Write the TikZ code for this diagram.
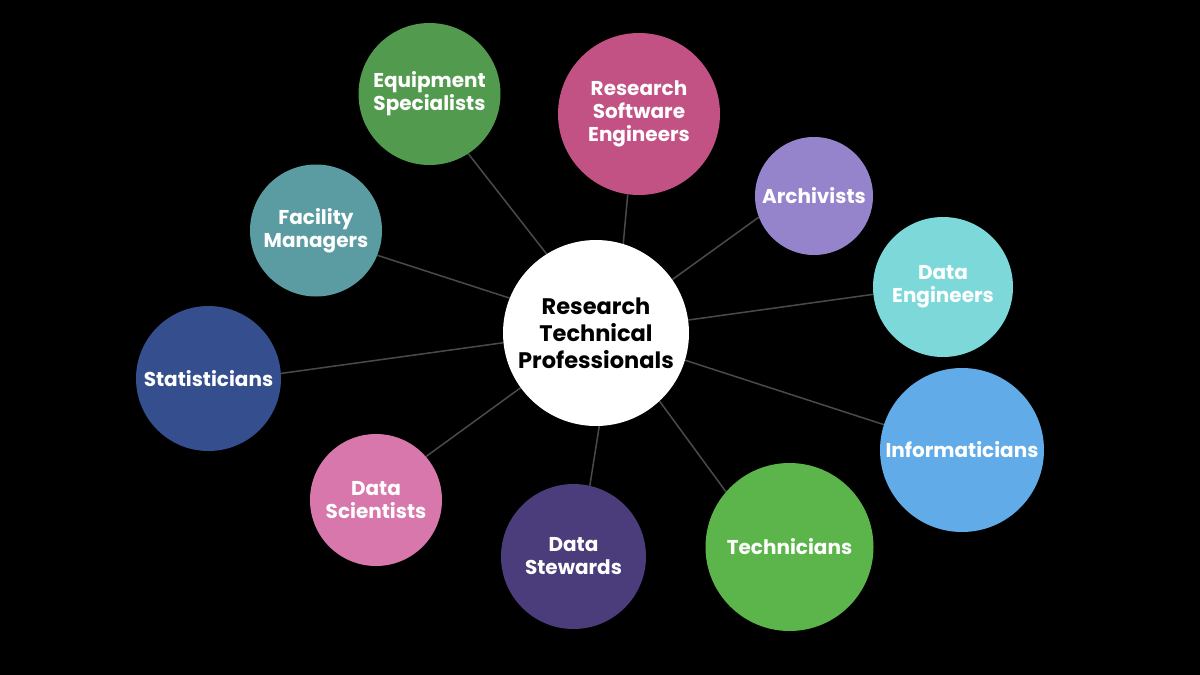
\documentclass[tikz,border=0pt]{standalone}
\usepackage{fontspec}
\setmainfont{Poppins}
\definecolor{bgc}{HTML}{000000}
\definecolor{linec}{HTML}{4A4A4A}
\definecolor{cEquip}{HTML}{529A4E}
\definecolor{cRSE}{HTML}{C25283}
\definecolor{cArch}{HTML}{9583CC}
\definecolor{cDEng}{HTML}{7DD9D9}
\definecolor{cInfo}{HTML}{61ABE8}
\definecolor{cTech}{HTML}{5CB54B}
\definecolor{cStew}{HTML}{4B3D7B}
\definecolor{cSci}{HTML}{D877AB}
\definecolor{cStat}{HTML}{344E8E}
\definecolor{cFac}{HTML}{5A9CA2}
\pgfdeclarelayer{bglayer}
\pgfdeclarelayer{linelayer}
\pgfsetlayers{bglayer,linelayer,main}
\tikzset{
  role/.style={circle, fill=#1, inner sep=0pt, align=center, text=white,
    font=\fontsize{20}{23}\selectfont\bfseries},
  hub/.style={circle, fill=white, inner sep=0pt, minimum size=186pt, align=center,
    text=black, font=\fontsize{22.5}{27}\selectfont\bfseries},
  link/.style={draw=linec, line width=1.5pt}
}
\begin{document}
\begin{tikzpicture}[x=1pt,y=-1pt]
\begin{pgfonlayer}{bglayer}
\fill[bgc] (0,0) rectangle (1200,675);
\end{pgfonlayer}
\useasboundingbox (0,0) rectangle (1200,675);
\node[hub] (c) at (596,333) {Research\\Technical\\Professionals};
\node[role=cEquip, minimum size=142pt] (equip) at (429.5,94) {Equipment\\Specialists};
\node[role=cRSE, minimum size=162pt] (rse) at (639,114) {Research\\Software\\Engineers};
\node[role=cArch, minimum size=118pt] (arch) at (814,196) {Archivists};
\node[role=cDEng, minimum size=140pt] (deng) at (943,287) {Data\\Engineers};
\node[role=cInfo, minimum size=164pt] (info) at (962,450) {Informaticians};
\node[role=cTech, minimum size=168pt] (tech) at (789.5,547) {Technicians};
\node[role=cStew, minimum size=145pt] (stew) at (573.5,556.5) {Data\\Stewards};
\node[role=cSci, minimum size=132pt] (sci) at (376,500) {Data\\Scientists};
\node[role=cStat, minimum size=145pt] (stat) at (208.5,378.5) {Statisticians};
\node[role=cFac, minimum size=132pt] (fac) at (316,230.5) {Facility\\Managers};
\begin{pgfonlayer}{linelayer}
\draw[link] (c.122.6) -- (equip.303.6);
\draw[link] (c.73.8) -- (rse.262);
\draw[link] (c.35.3) -- (arch.201.4);
\draw[link] (c.8.5) -- (deng.186);
\draw[link] (c.-17) -- (info.162.6);
\draw[link] (c.-47.6) -- (tech.139.5);
\draw[link] (c.-88.8) -- (stew.77);
\draw[link] (c.216) -- (sci.41.4);
\draw[link] (c.186) -- (stat.4.3);
\draw[link] (c.158.5) -- (fac.-22.4);
\end{pgfonlayer}
\end{tikzpicture}
\end{document}
